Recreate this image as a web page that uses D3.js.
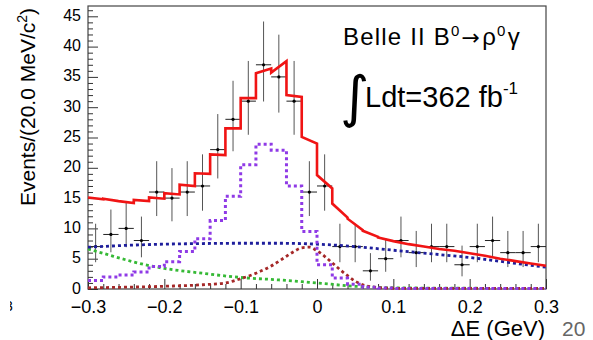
<!DOCTYPE html>
<html>
<head>
<meta charset="utf-8">
<script src="https://cdn.jsdelivr.net/npm/d3@7"></script>
<style>
  body { margin: 0; background: #fff; }
  svg { display: block; font-family: "Liberation Sans", Arial, sans-serif; }
</style>
</head>
<body>
<svg id="chart"></svg>
<script>
// bin centres (20 MeV bins) and observed counts
const binCenters = [-0.29, -0.27, -0.25, -0.23, -0.21, -0.19, -0.17, -0.15, -0.13, -0.11,
                    -0.09, -0.07, -0.05, -0.03, -0.01, 0.01, 0.03, 0.05, 0.07, 0.09,
                    0.11, 0.13, 0.15, 0.17, 0.19, 0.21, 0.23, 0.25, 0.27, 0.29];
const counts = [7, 9, 10, 8, 16, 15, 16, 17, 23, 28,
                31, 37, 35, 31, 16, 17, 7, 7, 3, 5,
                8, 6, 7, 7, 4, 7, 8, 6, 6, 7];
// asymmetric (poisson) error bars
const errLo = [2.58, 2.94, 3.11, 2.77, 3.96, 3.83, 3.96, 4.08, 4.76, 5.27,
               5.55, 6.06, 5.89, 5.55, 3.96, 4.08, 2.58, 2.58, 1.63, 2.16,
               2.77, 2.38, 2.58, 2.58, 1.91, 2.58, 2.77, 2.38, 2.38, 2.58];
const errHi = [3.77, 4.11, 4.27, 3.95, 5.09, 4.95, 5.09, 5.22, 5.87, 6.36,
               6.63, 7.14, 6.97, 6.63, 5.09, 5.22, 3.77, 3.77, 2.92, 3.38,
               3.95, 3.58, 3.77, 3.77, 3.16, 3.77, 3.95, 3.58, 3.58, 3.77];

// signal histogram pdf (purple)
const sigHist = [1.4, 2.0, 2.3, 2.8, 3.7, 4.5, 6.2, 8.3, 11.3, 15.3,
                 20.5, 23.9, 22.9, 17.0, 9.5, 4.0, 1.8, 0.8, 0.3, 0.15,
                 0.1, 0.1, 0.1, 0.1, 0.1, 0.1, 0.1, 0.1, 0.1, 0.1];
// total fit (red), value at left / right edge of each bin
const totLeft = [15.1, 14.9, 14.5, 14.7, 15.1, 15.8, 17.2, 19.1, 22.2, 26.5,
                 31.5, 35.6, 35.7, 32.0, 25.1, 18.8, 14.1, 11.6, 9.6, 8.5,
                 7.9, 7.4, 7.0, 6.6, 6.3, 5.9, 5.5, 5.0, 4.6, 4.2];
const totRight = [14.8, 14.5, 14.2, 14.5, 14.9, 15.6, 17.0, 19.0, 22.1, 26.5,
                  31.5, 36.4, 37.6, 31.7, 24.0, 16.6, 11.8, 9.7, 8.6, 7.9,
                  7.4, 7.0, 6.6, 6.3, 5.9, 5.5, 5.0, 4.6, 4.2, 3.85];

// continuum (blue)
const contX = [-0.3, -0.25, -0.2, -0.15, -0.1, -0.05, 0, 0.05, 0.1, 0.15, 0.2, 0.25, 0.3];
const contY = [6.9, 7.2, 7.4, 7.5, 7.55, 7.55, 7.4, 7.0, 6.4, 5.8, 5.2, 4.4, 3.6];
// green background
const grnX = [-0.3, -0.275, -0.25, -0.225, -0.2, -0.15, -0.1, -0.05, 0, 0.05, 0.1, 0.15, 0.3];
const grnY = [6.6, 5.7, 4.8, 4.0, 3.4, 2.6, 1.9, 1.5, 1.0, 0.45, 0.2, 0.15, 0.1];
// peaking background (dark red)
const pkX = [-0.3, -0.25, -0.2, -0.15, -0.12, -0.1, -0.08, -0.06, -0.04, -0.03, -0.02, -0.01,
             0, 0.01, 0.02, 0.03, 0.04, 0.05, 0.06, 0.08, 0.1, 0.3];
const pkY = [0.2, 0.3, 0.45, 0.7, 1.0, 1.7, 2.6, 3.8, 5.4, 6.2, 6.8, 6.9,
             6.3, 5.4, 4.3, 3.2, 2.2, 1.3, 0.7, 0.25, 0.12, 0.1];

const xTicks = [-0.3, -0.2, -0.1, 0, 0.1, 0.2, 0.3];
const yTicks = [0, 5, 10, 15, 20, 25, 30, 35, 40, 45];

const W = 593, H = 340;
const margin = {top: 6, right: 47, bottom: 51, left: 88};
const binW = 0.02;

const svg = d3.select('#chart')
  .attr('width', W)
  .attr('height', H)
  .attr('viewBox', [0, 0, W, H]);

const x = d3.scaleLinear().domain([-0.3, 0.3]).range([margin.left, W - margin.right]);
const y = d3.scaleLinear().domain([0, 46.7]).range([H - margin.bottom, margin.top]);

// frame
svg.append('rect')
  .attr('x', x(-0.3)).attr('y', y(46.7))
  .attr('width', x(0.3) - x(-0.3)).attr('height', y(0) - y(46.7))
  .attr('fill', 'none').attr('stroke', '#444').attr('stroke-width', 1.2);

// minor ticks
const xMinor = d3.range(-15, 16).map(i => i * binW).filter(v => Math.abs(Math.round(v * 10) - v * 10) > 1e-6);
const yMinor = d3.range(0, 47).filter(v => v % 5 !== 0);

svg.append('g')
  .attr('transform', `translate(0,${y(0)})`)
  .call(d3.axisBottom(x).tickValues(xMinor).tickSize(-5).tickFormat(''))
  .call(g => g.select('.domain').remove())
  .call(g => g.selectAll('line').attr('stroke', '#333'));

svg.append('g')
  .attr('transform', `translate(${x(-0.3)},0)`)
  .call(d3.axisLeft(y).tickValues(yMinor).tickSize(-5).tickFormat(''))
  .call(g => g.select('.domain').remove())
  .call(g => g.selectAll('line').attr('stroke', '#333'));

// major ticks + labels
svg.append('g')
  .attr('transform', `translate(0,${y(0)})`)
  .call(d3.axisBottom(x).tickValues(xTicks).tickSize(-10).tickPadding(11).tickFormat(d3.format('')))
  .call(g => g.select('.domain').remove())
  .call(g => g.selectAll('line').attr('stroke', '#333'))
  .call(g => g.selectAll('text').attr('font-size', 18).attr('fill', '#000')
    .attr('font-family', '"Liberation Sans", Arial, sans-serif'));

svg.append('g')
  .attr('transform', `translate(${x(-0.3)},0)`)
  .call(d3.axisLeft(y).tickValues(yTicks).tickSize(-10).tickPadding(7))
  .call(g => g.select('.domain').remove())
  .call(g => g.selectAll('line').attr('stroke', '#333'))
  .call(g => g.selectAll('text').attr('font-size', 16).attr('fill', '#000').attr('dy', '0.25em')
    .attr('font-family', '"Liberation Sans", Arial, sans-serif'));

// data points
const pts = binCenters.map((c, i) => ({c: c, n: counts[i], lo: errLo[i], hi: errHi[i]}));
const dataG = svg.append('g');
dataG.selectAll('line.v').data(pts).enter().append('line')
  .attr('x1', d => x(d.c)).attr('x2', d => x(d.c))
  .attr('y1', d => y(d.n - d.lo)).attr('y2', d => y(d.n + d.hi))
  .attr('stroke', '#555').attr('stroke-width', 1);
dataG.selectAll('line.h').data(pts).enter().append('line')
  .attr('x1', d => x(d.c - binW / 2)).attr('x2', d => x(d.c + binW / 2))
  .attr('y1', d => y(d.n)).attr('y2', d => y(d.n))
  .attr('stroke', '#222').attr('stroke-width', 1);
dataG.selectAll('circle').data(pts).enter().append('circle')
  .attr('cx', d => x(d.c)).attr('cy', d => y(d.n)).attr('r', 1.6)
  .attr('fill', '#000');

// smooth components
const smooth = d3.line().x(d => x(d[0])).y(d => y(d[1])).curve(d3.curveMonotoneX);
const dotted = (xs, ys, col) => svg.append('path')
  .attr('d', smooth(xs.map((v, i) => [v, ys[i]])))
  .attr('fill', 'none').attr('stroke', col)
  .attr('stroke-width', 2.8).attr('stroke-dasharray', '3 3');

dotted(grnX, grnY, '#35b935');
dotted(pkX, pkY, '#a52828');
dotted(contX, contY, '#1e1e9c');

// signal histogram (purple, steps)
const stepLine = d3.line().x(d => x(d[0])).y(d => y(d[1]));
const sigPts = [];
binCenters.forEach((c, i) => {
  sigPts.push([c - binW / 2, sigHist[i]]);
  sigPts.push([c + binW / 2, sigHist[i]]);
});
svg.append('path')
  .attr('d', stepLine(sigPts))
  .attr('fill', 'none').attr('stroke', '#8f3ae6')
  .attr('stroke-width', 3).attr('stroke-dasharray', '3 3');

// total fit (red)
const totPts = [];
binCenters.forEach((c, i) => {
  totPts.push([c - binW / 2, totLeft[i]]);
  totPts.push([c + binW / 2, totRight[i]]);
});
svg.append('path')
  .attr('d', stepLine(totPts))
  .attr('fill', 'none').attr('stroke', '#f01414')
  .attr('stroke-width', 2.6).attr('stroke-linejoin', 'miter');

// y axis title
svg.append('text')
  .attr('transform', `translate(35,107) rotate(-90)`)
  .attr('text-anchor', 'middle')
  .attr('font-size', 21)
  .html('Events/(20.0 MeV/c<tspan dy="-8" font-size="14">2</tspan><tspan dy="8">)</tspan>');

// x axis title
svg.append('text')
  .attr('x', 545).attr('y', 336)
  .attr('text-anchor', 'end')
  .attr('font-size', 22)
  .text('ΔE (GeV)');

// page number
svg.append('text')
  .attr('x', 562).attr('y', 336)
  .attr('font-size', 21)
  .attr('fill', '#666')
  .text('20');

// cut-off glyph on the far left
svg.append('clipPath').attr('id', 'cut')
  .append('rect').attr('x', 10).attr('y', 290).attr('width', 10).attr('height', 30);
svg.append('text')
  .attr('x', 5).attr('y', 311)
  .attr('font-size', 14)
  .attr('clip-path', 'url(#cut)')
  .text('3');

// legend text
svg.append('text')
  .attr('x', 343).attr('y', 45)
  .attr('font-size', 24)
  .attr('letter-spacing', 1.2)
  .html('Belle II B<tspan dy="-9" font-size="15">0</tspan>' +
        '<tspan dy="9" dx="1" font-family="DejaVu Sans" font-size="22">→</tspan>' +
        '<tspan dx="1">ρ</tspan><tspan dy="-9" font-size="15">0</tspan><tspan dy="9" dx="1">γ</tspan>');

svg.append('text')
  .attr('x', 340).attr('y', 116)
  .attr('font-size', 56)
  .attr('font-family', '"DejaVu Sans", sans-serif')
  .text('∫');

svg.append('text')
  .attr('x', 365).attr('y', 107)
  .attr('font-size', 29)
  .html('Ldt=362 fb<tspan dy="-13" font-size="17">-1</tspan>');
</script>
</body>
</html>
